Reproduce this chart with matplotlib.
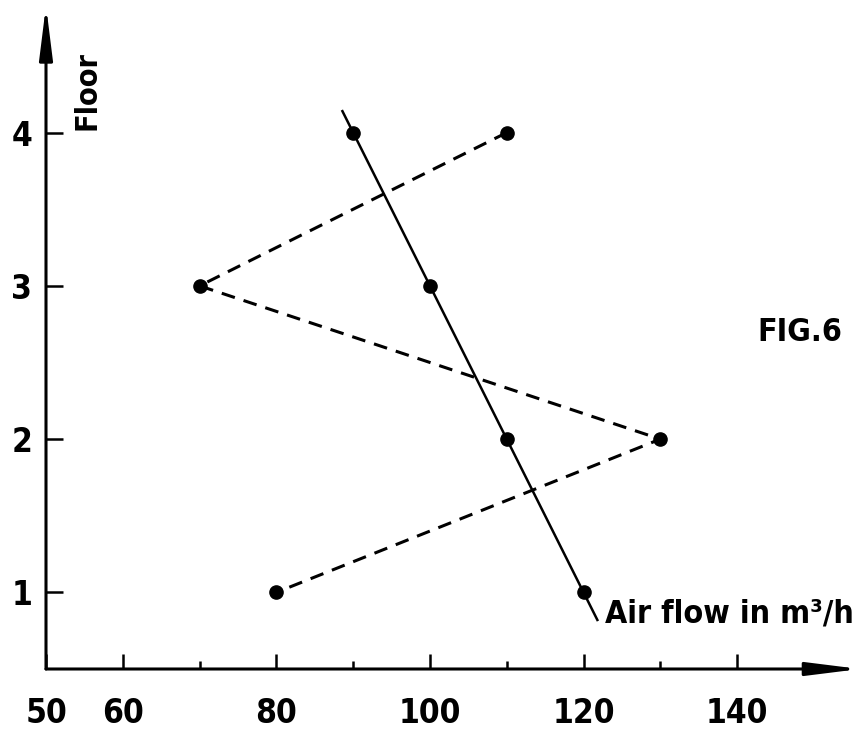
'''
Air flow per floor (FIG. 6): measured values (dashed) and the
balanced distribution (solid) plotted against floor number.
'''
import matplotlib
matplotlib.use('Agg')
import matplotlib.pyplot as plt

# data
floors = [4, 3, 2, 1]
flow_balanced = [90, 100, 110, 120]      # solid line
flow_measured = [110, 70, 130, 80]       # dashed line
# the solid line runs on a little past its end points
balanced_ends_x = [88.6, 121.8]
balanced_ends_y = [4.14, 0.82]

x_major = [50, 60, 80, 100, 120, 140]
x_minor = [70, 90, 110, 130]
y_ticks = [1, 2, 3, 4]

plt.rcParams['font.family'] = ['DejaVu Sans']
plt.rcParams['font.stretch'] = 'condensed'
plt.rcParams['font.weight'] = 'bold'

fig = plt.figure(figsize=(8.65, 7.3), dpi=100)
W, H = 865, 730
ax = fig.add_axes([46 / W, 61 / H, (860 - 46) / W, (669 - 10) / H])
ax.set_xlim(50, 156)
ax.set_ylim(0.5, 4.8)

for s in ax.spines.values():
    s.set_visible(False)

# axes drawn as arrows
arrow = dict(arrowstyle='-|>,head_length=1.6,head_width=0.2',
             color='black', lw=2.2, mutation_scale=20, shrinkA=0, shrinkB=0)
ax.annotate('', xy=(156, 0.5), xytext=(50, 0.5), arrowprops=arrow,
            annotation_clip=False)
ax.annotate('', xy=(50, 4.83), xytext=(50, 0.5), arrowprops=arrow,
            annotation_clip=False)

# solid line with its overshoot, then the points
ax.plot([balanced_ends_x[0]] + flow_balanced + [balanced_ends_x[1]],
        [balanced_ends_y[0]] + floors + [balanced_ends_y[1]],
        color='black', lw=1.8, zorder=3)
ax.plot(flow_balanced, floors, 'o', color='black', ms=9.5, zorder=4)

# dashed line
ax.plot(flow_measured, floors, color='black', lw=2.2,
        linestyle=(0, (4.5, 3)), marker='o', ms=9.5, zorder=3)

# ticks
ax.set_xticks(x_major)
ax.set_xticklabels([str(v) for v in x_major])
ax.set_xticks(x_minor, minor=True)
ax.set_yticks(y_ticks)
ax.set_yticklabels([str(v) for v in y_ticks])
ax.tick_params(axis='x', which='major', direction='in', length=11, width=1.8,
               pad=20, labelsize=24)
ax.tick_params(axis='x', which='minor', direction='in', length=6, width=1.8)
ax.tick_params(axis='y', which='major', direction='in', length=12, width=1.8,
               pad=10, labelsize=24)

# labels
ax.text(87 / 865, 1 - 90 / 730, 'Floor', transform=fig.transFigure,
        rotation=90, ha='center', va='center', fontsize=22)
ax.text(605 / 865, 1 - 623 / 730, 'Air flow in m³/h',
        transform=fig.transFigure, ha='left', va='baseline', fontsize=23)
ax.text(800 / 865, 1 - 333 / 730, 'FIG.6', transform=fig.transFigure,
        ha='center', va='center', fontsize=23)

fig.savefig('out.png', dpi=100)
